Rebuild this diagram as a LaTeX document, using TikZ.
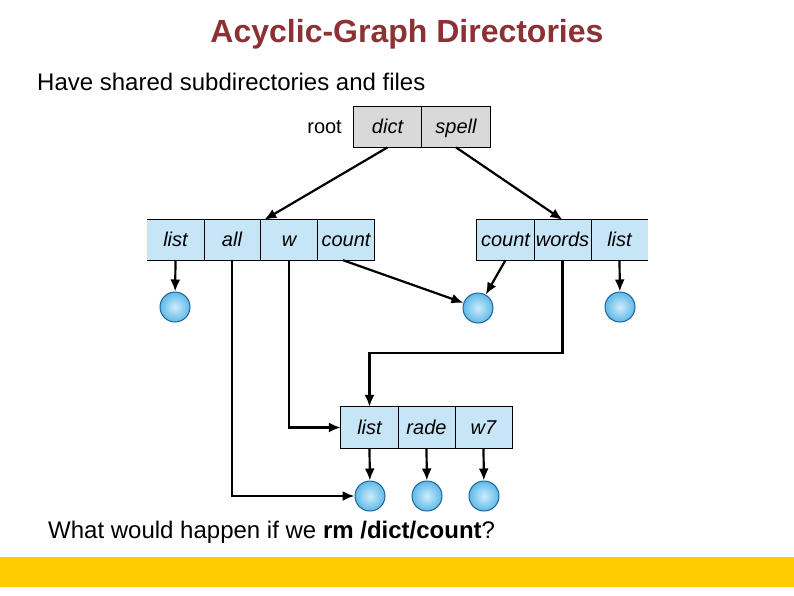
\documentclass[tikz,border=0pt]{standalone}
\usepackage{fontspec}
\setmainfont{Liberation Sans}
\usetikzlibrary{arrows.meta,calc}
\definecolor{titlered}{RGB}{140,50,52}
\definecolor{cellblue}{RGB}{198,229,247}
\definecolor{cellgray}{RGB}{217,217,217}
\definecolor{ballout}{RGB}{95,185,232}
\definecolor{ballin}{RGB}{205,236,252}
\definecolor{balledge}{RGB}{30,100,150}
\definecolor{bandyellow}{RGB}{253,203,0}
\tikzset{
  cell/.style={minimum width=57pt,minimum height=40pt,inner sep=0pt,
    text height=14pt,text depth=1pt,
    font=\fontsize{20}{23}\selectfont\itshape},
  bluecell/.style={cell,fill=cellblue},
  graycell/.style={cell,fill=cellgray,draw=black,line width=0.8pt,minimum height=41pt,minimum width=68.5pt},
  leaf/.style={circle,minimum size=30pt,inner sep=0pt,draw=balledge,line width=1pt,
    inner color=ballin,outer color=ballout},
  conn/.style={line width=2.2pt,-{Latex[length=12pt,width=10pt]}},
  boxline/.style={line width=0.8pt}
}
\begin{document}
\begin{tikzpicture}[x=1pt,y=-1pt]
\useasboundingbox (0,0) rectangle (794,595);
\fill[bandyellow] (0,557) rectangle (794,587);
\node[font=\fontsize{32}{36}\selectfont\bfseries,text=titlered] (title) at (407,34) {Acyclic-Graph Directories};
\node[anchor=west,font=\fontsize{24}{28}\selectfont,inner sep=0pt] (intro) at (37,82) {Have shared subdirectories and files};
\node[anchor=west,font=\fontsize{24}{28}\selectfont,inner sep=0pt] (question) at (48,532) {What would happen if we \textbf{rm /dict/count}?};

% root directory
\node[graycell] (dict) at (387.5,126.5) {dict};
\node[graycell] (spell) at (456,126.5) {spell};
\node[anchor=east,font=\fontsize{20}{23}\selectfont,inner sep=0pt,text height=14pt,text depth=1pt] (rootlbl) at (342,127) {root};

% left directory
\node[bluecell] (llist) at (175.5,240) {list};
\node[bluecell] (lall) at (232,240) {all};
\node[bluecell] (lw) at (289,240) {w};
\node[bluecell] (lcount) at (346,240) {count};
\draw[boxline] (llist.north west) -- (lcount.north east) -- (lcount.south east) -- (llist.south west);
\draw[boxline] (llist.north east) -- (llist.south east);
\draw[boxline] (lall.north east) -- (lall.south east);
\draw[boxline] (lw.north east) -- (lw.south east);

% right directory
\node[bluecell] (rcount) at (505.5,240) {count};
\node[bluecell] (rwords) at (562.5,240) {words};
\node[bluecell] (rlist) at (619.5,240) {list};
\draw[boxline] (rlist.north east) -- (rcount.north west) -- (rcount.south west) -- (rlist.south east);
\draw[boxline] (rcount.north east) -- (rcount.south east);
\draw[boxline] (rwords.north east) -- (rwords.south east);

% bottom directory
\node[bluecell,minimum height=41pt] (blist) at (369.5,427.5) {list};
\node[bluecell,minimum height=41pt] (brade) at (426.5,427.5) {rade};
\node[bluecell,minimum height=41pt] (bw7) at (483.5,427.5) {w7};
\draw[boxline] (blist.north west) rectangle (bw7.south east);
\draw[boxline] (blist.north east) -- (blist.south east);
\draw[boxline] (brade.north east) -- (brade.south east);

% files
\node[leaf] (f1) at (175,307) {};
\node[leaf] (f2) at (478,308) {};
\node[leaf] (f3) at (620,307) {};
\node[leaf] (f4) at (370,496) {};
\node[leaf] (f5) at (427,496) {};
\node[leaf] (f6) at (484,496) {};

% connectors
\draw[conn] (dict.south) -- ($(lw.north west)+(4,0)$);
\draw[conn] (spell.south) -- (rwords.north);
\draw[conn] (llist.south) -- (f1);
\draw[conn] ($(lcount.south)+(-3,0)$) -- (f2);
\draw[conn] (rcount.south) -- (f2);
\draw[conn] (rlist.south) -- (f3);
\draw[conn] (rwords.south) -- ($(rwords.south |- 0,353)$) -- ($(blist.north |- 0,353)$) -- (blist.north);
\draw[conn] (lw.south) |- (blist.west);
\draw[conn] (lall.south) |- (f4);
\draw[conn] (blist.south) -- (f4);
\draw[conn] (brade.south) -- (f5);
\draw[conn] (bw7.south) -- (f6);
\end{tikzpicture}
\end{document}
